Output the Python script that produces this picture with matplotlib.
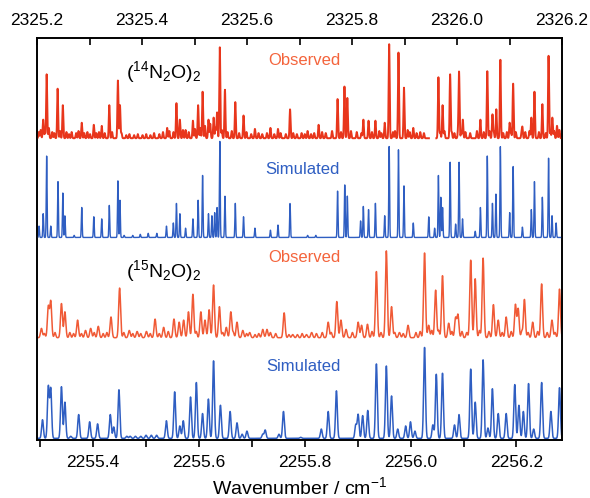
import numpy as np
import matplotlib
matplotlib.use("Agg")
from matplotlib import pyplot as plt
from matplotlib.ticker import MultipleLocator, FormatStrFormatter

plt.rcParams["font.family"] = ["Liberation Sans", "DejaVu Sans"]
plt.rcParams["mathtext.fontset"] = "custom"
plt.rcParams["mathtext.rm"] = "Liberation Sans"
plt.rcParams["mathtext.it"] = "Liberation Sans:italic"

# (14N2O)2, top axis, cm-1
obs14_pos = [2325.2118, 2325.2184, 2325.2393, 2325.2492, 2325.2852, 2325.3082, 2325.3233,
             2325.3377, 2325.3541, 2325.3580, 2325.4479, 2325.4656, 2325.4721, 2325.4830,
             2325.4970, 2325.5069, 2325.5154, 2325.5266, 2325.5364, 2325.5430, 2325.5482,
             2325.5580, 2325.5777, 2325.5934, 2325.6151, 2325.6446, 2325.6590, 2325.6820,
             2325.7154, 2325.7364, 2325.7725, 2325.7856, 2325.7911, 2325.8216, 2325.8315,
             2325.8446, 2325.8623, 2325.8708, 2325.8885, 2325.8990, 2325.9167, 2325.9646,
             2325.9725, 2325.9869, 2326.0039, 2326.0111, 2326.0446, 2326.0577, 2326.0675,
             2326.0748, 2326.0826, 2326.1003, 2326.1069, 2326.1246, 2326.1416, 2326.1475,
             2326.1626, 2326.1744, 2326.1816, 2326.1905]
obs14_amp = [18, 62, 48, 32, 15, 13, 12,
             32, 56, 32, 10, 34, 18, 8,
             17, 32, 45, 18, 20, 25, 88,
             47, 35, 22, 9, 10, 9, 28,
             7, 13, 38, 50, 39, 18, 17,
             17, 15, 91, 83, 49, 10, 59,
             32, 62, 64, 18, 18, 65, 23,
             28, 76, 15, 53, 10, 20, 45,
             33, 80, 20, 12]
# weak features / noise of the observed trace
obs14_weak_pos = [2325.2035, 2325.2070, 2325.2150, 2325.2225, 2325.2290, 2325.2330, 2325.2440,
                  2325.2560, 2325.2610, 2325.2660, 2325.2745, 2325.2790, 2325.2900, 2325.2960,
                  2325.3010, 2325.3130, 2325.3180, 2325.3290, 2325.3430, 2325.3610, 2325.3700,
                  2325.3760, 2325.3850, 2325.3920, 2325.4010, 2325.4080, 2325.4160, 2325.4230,
                  2325.4330, 2325.4400, 2325.4520, 2325.4600, 2325.4780, 2325.4890, 2325.5010,
                  2325.5110, 2325.5200, 2325.5300, 2325.5400, 2325.5520, 2325.5630, 2325.5710,
                  2325.5850, 2325.5990, 2325.6080, 2325.6220, 2325.6290, 2325.6380, 2325.6520,
                  2325.6640, 2325.6740, 2325.6880, 2325.6950, 2325.7040, 2325.7100, 2325.7220,
                  2325.7280, 2325.7430, 2325.7500, 2325.7620, 2325.7790, 2325.7980, 2325.8090,
                  2325.8180, 2325.8380, 2325.8520, 2325.8560, 2325.8780, 2325.8820, 2325.9060,
                  2325.9100, 2325.9230, 2325.9300, 2325.9370, 2325.9680, 2325.9760, 2325.9900,
                  2325.9950, 2326.0020, 2326.0080, 2326.0160, 2326.0250, 2326.0380, 2326.0510,
                  2326.0620, 2326.0700, 2326.0880, 2326.0950, 2326.1030, 2326.1120, 2326.1230,
                  2326.1300, 2326.1380, 2326.1560, 2326.1690, 2326.1780, 2326.1850, 2326.1950]
obs14_weak_amp = [6, 8, 5, 10, 6, 5, 7,
                  6, 4, 6, 5, 7, 5, 6,
                  4, 5, 6, 5, 6, 5, 3,
                  4, 3, 4, 3, 4, 3, 5,
                  4, 6, 7, 6, 8, 6, 9,
                  10, 12, 14, 10, 8, 6, 7,
                  5, 6, 4, 5, 4, 5, 4,
                  5, 4, 5, 4, 5, 4, 4,
                  5, 6, 5, 7, 6, 7, 6,
                  5, 6, 7, 5, 6, 7, 8,
                  6, 5, 6, 5, 6, 7, 6,
                  5, 6, 5, 6, 5, 7, 6,
                  7, 6, 5, 6, 5, 6, 5,
                  6, 7, 6, 5, 6, 7, 8]
obs14_gap = (2325.9465, 2325.9605)

sim14_pos = [2325.2039, 2325.2118, 2325.2184, 2325.2262, 2325.2400, 2325.2492, 2325.2531,
             2325.2708, 2325.2852, 2325.3082, 2325.3233, 2325.3377, 2325.3541, 2325.3580,
             2325.3659, 2325.3823, 2325.3967, 2325.4118, 2325.4282, 2325.4466, 2325.4597,
             2325.4656, 2325.4721, 2325.4830, 2325.4970, 2325.5069, 2325.5154, 2325.5266,
             2325.5331, 2325.5384, 2325.5430, 2325.5482, 2325.5580, 2325.5777, 2325.5934,
             2325.6151, 2325.6446, 2325.6590, 2325.6820, 2325.7154, 2325.7311, 2325.7725,
             2325.7862, 2325.7911, 2325.8164, 2325.8216, 2325.8315, 2325.8446, 2325.8623,
             2325.8708, 2325.8885, 2325.8990, 2325.9167, 2325.9462, 2325.9574, 2325.9646,
             2325.9692, 2325.9725, 2325.9869, 2325.9974, 2326.0039, 2326.0105, 2326.0347,
             2326.0446, 2326.0577, 2326.0675, 2326.0741, 2326.0826, 2326.1003, 2326.1069,
             2326.1246, 2326.1416, 2326.1475, 2326.1626, 2326.1744, 2326.1810, 2326.1888]
sim14_amp = [11, 23, 79, 11, 54, 43, 21,
             2, 29, 20, 18, 31, 55, 36,
             2, 2, 3, 4, 4, 11, 14,
             33, 23, 9, 18, 36, 60, 23,
             21, 24, 29, 93, 40, 33, 20,
             9, 7, 12, 33, 2, 2, 45,
             51, 40, 16, 30, 27, 33, 21,
             88, 85, 50, 14, 20, 9, 60,
             39, 29, 73, 13, 73, 18, 6,
             29, 79, 33, 42, 88, 24, 69,
             10, 27, 54, 39, 77, 21, 14]

# (15N2O)2, bottom axis, cm-1
obs15_pos = [2255.3024, 2255.3154, 2255.3200, 2255.3402, 2255.3467, 2255.3707, 2255.3857,
             2255.3954, 2255.4098, 2255.4338, 2255.4501, 2255.4683, 2255.4832, 2255.5008,
             2255.5171, 2255.5333, 2255.5528, 2255.5626, 2255.5711, 2255.5802, 2255.5886,
             2255.6036, 2255.6114, 2255.6192, 2255.6276, 2255.6387, 2255.6517, 2255.6602,
             2255.6719, 2255.6829, 2255.6959, 2255.7206, 2255.7285, 2255.7610, 2255.7772,
             2255.8032, 2255.8130, 2255.8442, 2255.8605, 2255.8683, 2255.8780, 2255.9008,
             2255.9073, 2255.9184, 2255.9353, 2255.9541, 2255.9639, 2255.9789, 2255.9951,
             2256.0263, 2256.0341, 2256.0472, 2256.0602, 2256.0719, 2256.0849, 2256.0894,
             2256.1135, 2256.1220, 2256.1369, 2256.1564, 2256.1655, 2256.1805, 2256.1980,
             2256.2032, 2256.2150, 2256.2306, 2256.2475, 2256.2670, 2256.2813]
obs15_amp = [9, 30, 35, 33, 25, 17, 7,
             9, 11, 20, 48, 7, 6, 6,
             18, 10, 18, 15, 17, 25, 42,
             25, 17, 27, 51, 30, 10, 25,
             15, 7, 5, 8, 8, 24, 3,
             3, 5, 15, 35, 17, 8, 15,
             12, 13, 64, 84, 30, 5, 12,
             82, 12, 46, 60, 14, 19, 22,
             75, 57, 77, 32, 17, 20, 32,
             28, 37, 15, 52, 17, 47]
obs15_weak_pos = [2255.3080, 2255.3280, 2255.3560, 2255.3630, 2255.3780, 2255.4020, 2255.4190,
                  2255.4260, 2255.4580, 2255.4750, 2255.4900, 2255.5080, 2255.5250, 2255.5420,
                  2255.5950, 2255.6450, 2255.6650, 2255.6900, 2255.7060, 2255.7130, 2255.7350,
                  2255.7450, 2255.7700, 2255.7860, 2255.7950, 2255.8220, 2255.8330, 2255.8500,
                  2255.8900, 2255.9270, 2255.9440, 2255.9700, 2255.9860, 2256.0100, 2256.0180,
                  2256.0400, 2256.0530, 2256.0780, 2256.0970, 2256.1060, 2256.1300, 2256.1480,
                  2256.1730, 2256.1900, 2256.2100, 2256.2220, 2256.2400, 2256.2580, 2256.2730]
obs15_weak_amp = [4, 5, 5, 4, 4, 5, 4,
                  5, 5, 4, 4, 4, 4, 6,
                  6, 5, 5, 4, 3, 4, 5,
                  4, 3, 3, 4, 4, 5, 5,
                  5, 6, 5, 5, 4, 5, 6,
                  7, 7, 6, 6, 5, 7, 6,
                  5, 6, 6, 5, 6, 5, 5]

sim15_pos = [2255.3044, 2255.3154, 2255.3200, 2255.3402, 2255.3467, 2255.3577, 2255.3727,
             2255.3935, 2255.4085, 2255.4325, 2255.4390, 2255.4488, 2255.4637, 2255.4700,
             2255.4800, 2255.4900, 2255.5000, 2255.5100, 2255.5200, 2255.5385, 2255.5541,
             2255.5639, 2255.5704, 2255.5841, 2255.5951, 2255.6068, 2255.6179, 2255.6276,
             2255.6406, 2255.6589, 2255.6719, 2255.6816, 2255.6907, 2255.7206, 2255.7252,
             2255.7512, 2255.7597, 2255.7922, 2255.8312, 2255.8442, 2255.8598, 2255.8963,
             2255.9008, 2255.9093, 2255.9190, 2255.9353, 2255.9541, 2255.9639, 2255.9756,
             2255.9906, 2255.9997, 2256.0081, 2256.0263, 2256.0420, 2256.0485, 2256.0602,
             2256.0829, 2256.0914, 2256.1135, 2256.1220, 2256.1369, 2256.1460, 2256.1545,
             2256.1655, 2256.1805, 2256.1967, 2256.2046, 2256.2130, 2256.2228, 2256.2325,
             2256.2475, 2256.2650, 2256.2813]
sim15_amp = [18, 50, 48, 50, 35, 2, 23,
             16, 14, 23, 11, 47, 2, 2,
             2, 2, 3, 3, 3, 17, 45,
             12, 17, 40, 54, 24, 38, 75,
             32, 26, 15, 4, 7, 4, 8,
             4, 26, 1, 9, 26, 46, 13,
             23, 22, 27, 72, 70, 41, 9,
             12, 16, 7, 88, 13, 62, 63,
             13, 23, 67, 35, 76, 10, 48,
             24, 24, 52, 32, 26, 53, 9,
             54, 26, 49]

top_lim = (2325.2, 2326.2)
bottom_lim = (2255.294, 2256.286)


def spectrum(grid, pos, amp, fwhm):
    pos = np.asarray(pos)[:, None]
    amp = np.asarray(amp, dtype=float)[:, None]
    prof = amp * np.exp(-4 * np.log(2) * (grid[None, :] - pos) ** 2 / fwhm ** 2)
    return prof.sum(axis=0)


fig = plt.figure(figsize=(5.9, 4.98), dpi=100)
ax = fig.add_axes([37 / 590, 1 - 440 / 498, 525 / 590, 402 / 498])
ax_top = ax.twiny()

red = "#e8361c"
orange = "#f05a36"
blue = "#2f5ec2"

x14 = np.linspace(top_lim[0], top_lim[1], 6000)
y14_obs = spectrum(x14, obs14_pos, obs14_amp, 0.0022) + spectrum(x14, obs14_weak_pos, obs14_weak_amp, 0.0022)
y14_obs[(x14 > obs14_gap[0]) & (x14 < obs14_gap[1])] = np.nan
y14_sim = spectrum(x14, sim14_pos, sim14_amp, 0.0018)

x15 = np.linspace(bottom_lim[0], bottom_lim[1], 6000)
y15_obs = spectrum(x15, obs15_pos, obs15_amp, 0.0042) + spectrum(x15, obs15_weak_pos, obs15_weak_amp, 0.0035)
y15_sim = spectrum(x15, sim15_pos, sim15_amp, 0.0040)

ax_top.plot(x14, y14_obs + 292, color=red, lw=1.4)
ax_top.plot(x14, y14_sim + 196, color=blue, lw=1.0)
ax.plot(x15, y15_obs + 99, color=orange, lw=1.1)
ax.plot(x15, y15_sim + 1.6, color=blue, lw=1.1)

ax.set_ylim(0, 389)
ax_top.set_ylim(0, 389)
ax.set_xlim(*bottom_lim)
ax_top.set_xlim(*top_lim)
ax.set_yticks([])

for a in (ax, ax_top):
    a.xaxis.set_major_locator(MultipleLocator(0.2))
    a.xaxis.set_minor_locator(MultipleLocator(0.1))
    a.xaxis.set_major_formatter(FormatStrFormatter("%.1f"))
    for s in a.spines.values():
        s.set_linewidth(1.2)
ax.tick_params(axis="x", which="both", direction="out", length=5, width=1.2, labelsize=12.5, pad=6)
ax_top.tick_params(axis="x", which="both", direction="in", length=5, width=1.2, labelsize=12.5, pad=7)

ax.set_xlabel("Wavenumber / cm$^{-1}$", fontsize=14, labelpad=4)

lab_kw = dict(transform=ax.transAxes, ha="center", va="center", fontsize=12)
ax.text(0.509, 0.945, "Observed", color="#f4643c", **lab_kw)
ax.text(0.506, 0.673, "Simulated", color="#2f5ec2", **lab_kw)
ax.text(0.509, 0.454, "Observed", color="#f4643c", **lab_kw)
ax.text(0.508, 0.184, "Simulated", color="#2f5ec2", **lab_kw)

ax.text(0.17, 0.90, r"$\mathregular{(^{14}N_2O)_2}$", transform=ax.transAxes,
        ha="left", va="baseline", fontsize=14)
ax.text(0.17, 0.405, r"$\mathregular{(^{15}N_2O)_2}$", transform=ax.transAxes,
        ha="left", va="baseline", fontsize=14)

fig.savefig("out.png", dpi=100)
